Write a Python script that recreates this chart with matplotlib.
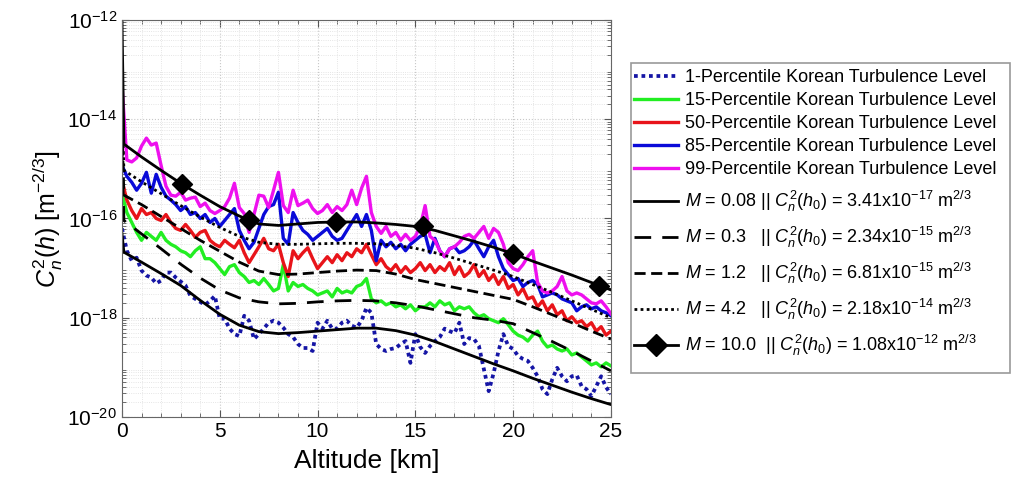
import numpy as np
import matplotlib
matplotlib.use("Agg")
import matplotlib.pyplot as plt
from matplotlib.lines import Line2D
from matplotlib.patches import Rectangle
from matplotlib.ticker import LogLocator, FixedLocator, MultipleLocator, NullFormatter

plt.rcParams['font.family'] = ['Liberation Sans', 'DejaVu Sans']
plt.rcParams['mathtext.fontset'] = 'custom'
plt.rcParams['mathtext.rm'] = 'Liberation Sans'
plt.rcParams['mathtext.it'] = 'Liberation Sans:italic'
plt.rcParams['mathtext.bf'] = 'Liberation Sans:bold'

# ---------------- data (log10 of Cn^2, m^-2/3) ----------------
altitude_km = np.arange(0, 25.001, 0.25)   # sampling grid of the percentile profiles

pct01_log10 = [
    -16.20, -16.65, -16.85, -16.79, -17.05, -17.15, -17.19, -17.31, -17.25, -17.09,
    -17.09, -17.19, -17.27, -17.35, -17.56, -17.62, -17.68, -17.74, -17.66, -17.56,
    -18.02, -18.02, -18.22, -18.33, -18.37, -17.96, -18.06, -18.43, -18.33, -18.22,
    -18.10, -18.06, -18.10, -18.20, -18.33, -18.39, -18.53, -18.61, -18.61, -18.67,
    -18.10, -18.22, -18.06, -18.22, -18.22, -18.10, -18.06, -18.16, -18.20, -18.06,
    -17.80, -17.90, -18.53, -18.63, -18.67, -18.63, -18.61, -18.53, -18.47, -18.91,
    -18.33, -18.59, -18.71, -18.57, -18.47, -18.39, -18.22, -18.27, -18.31, -18.10,
    -18.53, -18.41, -18.43, -18.57, -19.03, -19.48, -19.12, -18.67, -18.33, -18.57,
    -18.63, -18.77, -18.83, -18.87, -19.01, -19.18, -19.44, -19.54, -19.24, -19.01,
    -19.18, -19.28, -19.18, -19.16, -19.38, -19.44, -19.58, -19.38, -19.18, -19.40,
    -19.54]

pct15_log10 = [
    -15.49, -15.88, -16.08, -16.28, -16.44, -16.28, -16.36, -16.44, -16.28, -16.44,
    -16.52, -16.57, -16.65, -16.69, -16.77, -16.65, -16.57, -16.81, -16.81, -16.89,
    -17.01, -17.13, -16.97, -16.93, -17.09, -17.17, -17.29, -17.25, -17.33, -17.21,
    -17.33, -17.46, -17.41, -16.93, -17.46, -17.29, -17.37, -17.33, -17.41, -17.46,
    -17.54, -17.50, -17.46, -17.58, -17.41, -17.50, -17.46, -17.50, -17.37, -17.33,
    -17.21, -17.62, -17.70, -17.66, -17.74, -17.70, -17.78, -17.74, -17.82, -17.74,
    -17.86, -17.78, -17.78, -17.70, -17.78, -17.66, -17.74, -17.70, -17.86, -17.78,
    -17.82, -17.78, -17.90, -17.98, -17.94, -18.02, -18.06, -18.10, -18.02, -18.14,
    -18.27, -18.35, -18.39, -18.47, -18.35, -18.27, -18.47, -18.59, -18.55, -18.63,
    -18.67, -18.63, -18.75, -18.71, -18.79, -18.87, -18.95, -18.91, -18.99, -18.91,
    -18.97]

pct50_log10 = [
    -15.23, -15.63, -15.84, -16.00, -15.80, -15.92, -15.88, -16.00, -16.04, -15.92,
    -16.08, -16.20, -16.24, -16.12, -16.24, -16.38, -16.28, -16.24, -16.44, -16.52,
    -16.57, -16.44, -16.52, -16.59, -16.44, -16.69, -16.89, -16.73, -16.57, -16.40,
    -16.61, -16.65, -16.52, -16.89, -17.17, -16.65, -16.81, -16.69, -16.59, -16.81,
    -17.01, -16.89, -16.77, -16.89, -16.73, -16.85, -16.69, -16.77, -16.61, -16.69,
    -16.52, -16.73, -16.93, -16.81, -16.97, -17.05, -16.93, -17.09, -16.97, -17.09,
    -17.01, -16.89, -17.05, -16.93, -17.09, -16.97, -17.05, -16.89, -17.13, -16.97,
    -17.17, -17.09, -16.93, -17.17, -17.05, -17.25, -17.13, -17.33, -17.17, -17.41,
    -17.33, -17.54, -17.41, -17.62, -17.58, -17.78, -17.66, -17.86, -17.74, -17.94,
    -17.86, -18.06, -17.98, -18.10, -18.06, -18.18, -18.10, -18.27, -18.18, -18.35,
    -18.27]

pct85_log10 = [
    -14.93, -15.15, -15.27, -15.43, -15.29, -15.07, -15.49, -15.11, -15.37, -15.55,
    -15.63, -15.72, -15.84, -15.76, -15.92, -15.88, -16.00, -15.92, -16.08, -16.00,
    -16.16, -16.04, -15.92, -15.80, -16.24, -16.44, -16.61, -16.48, -16.20, -15.92,
    -15.76, -15.72, -15.47, -16.40, -16.52, -15.88, -16.08, -16.24, -16.32, -16.44,
    -16.36, -16.28, -16.20, -16.36, -16.44, -16.40, -16.24, -16.08, -15.92, -16.16,
    -15.92, -16.24, -16.85, -16.44, -16.57, -16.48, -16.61, -16.52, -16.65, -16.52,
    -16.44, -16.36, -16.32, -16.69, -16.40, -16.65, -16.77, -16.61, -16.57, -16.69,
    -16.65, -16.57, -16.44, -16.61, -16.77, -16.57, -16.44, -16.77, -17.01, -17.13,
    -17.25, -17.21, -17.37, -17.29, -17.25, -17.33, -17.58, -17.54, -17.50, -17.54,
    -17.62, -17.66, -17.70, -17.86, -17.78, -17.74, -17.82, -17.78, -17.86, -17.90,
    -17.96]

pct99_log10 = [
    -13.31, -14.82, -14.86, -14.78, -14.54, -14.38, -14.52, -14.48, -14.93, -15.35,
    -15.53, -15.55, -15.47, -15.63, -15.59, -15.57, -15.76, -15.69, -15.84, -15.90,
    -15.84, -15.76, -15.59, -15.29, -15.78, -15.90, -16.28, -15.92, -15.53, -15.55,
    -15.78, -15.43, -15.07, -15.74, -15.88, -15.43, -15.74, -15.69, -15.63, -15.80,
    -15.90, -15.84, -15.72, -15.88, -15.76, -15.84, -15.72, -15.43, -15.72, -15.39,
    -15.15, -15.88, -16.16, -16.30, -16.16, -16.36, -16.28, -16.44, -16.32, -16.44,
    -16.36, -16.16, -15.74, -16.36, -16.44, -16.65, -16.77, -16.61, -16.57, -16.48,
    -16.36, -16.32, -16.40, -16.28, -16.16, -16.40, -16.20, -16.28, -16.52, -16.89,
    -17.01, -17.05, -16.93, -16.77, -16.65, -17.29, -17.46, -17.50, -17.46, -17.37,
    -17.17, -17.46, -17.54, -17.50, -17.54, -17.62, -17.70, -17.72, -17.66, -17.78,
    -17.92]

model_h_km = [0, 0.1, 1, 2, 3, 4, 5, 6, 7, 8, 9, 10, 11, 12, 13,
              14, 15, 16, 17, 18, 19, 20, 21, 22, 23, 24, 25]
m008_log10 = [-16.30, -16.68, -16.88, -17.11, -17.35, -17.65, -17.93, -18.15, -18.28,
              -18.32, -18.30, -18.27, -18.24, -18.21, -18.21, -18.26, -18.35, -18.48,
              -18.63, -18.78, -18.93, -19.07, -19.22, -19.36, -19.50, -19.63, -19.75]
m03_log10 = [-14.63, -16.04, -16.31, -16.61, -16.92, -17.20, -17.44, -17.60, -17.68,
             -17.72, -17.71, -17.68, -17.66, -17.65, -17.66, -17.70, -17.76, -17.84,
             -17.92, -18.00, -18.05, -18.12, -18.30, -18.48, -18.67, -18.87, -19.07]
m12_log10 = [-14.17, -15.53, -15.72, -15.96, -16.20, -16.44, -16.66, -16.88, -17.06,
             -17.13, -17.12, -17.09, -17.06, -17.04, -17.05, -17.12, -17.23, -17.31,
             -17.39, -17.47, -17.55, -17.63, -17.78, -17.94, -18.10, -18.27, -18.43]
m42_log10 = [-13.66, -15.03, -15.26, -15.50, -15.74, -15.97, -16.18, -16.36, -16.48,
             -16.52, -16.52, -16.51, -16.50, -16.50, -16.51, -16.54, -16.60, -16.69,
             -16.80, -16.92, -17.04, -17.17, -17.33, -17.49, -17.66, -17.83, -18.00]
m10_log10 = [-11.97, -14.50, -14.76, -15.03, -15.29, -15.53, -15.76, -15.95, -16.11,
             -16.14, -16.11, -16.08, -16.07, -16.07, -16.09, -16.12, -16.16, -16.24,
             -16.35, -16.46, -16.58, -16.71, -16.86, -17.00, -17.14, -17.29, -17.44]
m10_marker_h_km = [3.05, 6.5, 10.95, 15.4, 20.0, 24.4]
m10_marker_log10 = [-15.30, -16.03, -16.07, -16.16, -16.71, -17.37]

pct_labels = ['1-Percentile Korean Turbulence Level',
              '15-Percentile Korean Turbulence Level',
              '50-Percentile Korean Turbulence Level',
              '85-Percentile Korean Turbulence Level',
              '99-Percentile Korean Turbulence Level']
model_labels = [
    r'$M$ = 0.08 || $C_n^2(h_0)$ = 3.41x10$^{-17}$ m$^{2/3}$',
    r'$M$ = 0.3   || $C_n^2(h_0)$ = 2.34x10$^{-15}$ m$^{2/3}$',
    r'$M$ = 1.2   || $C_n^2(h_0)$ = 6.81x10$^{-15}$ m$^{2/3}$',
    r'$M$ = 4.2   || $C_n^2(h_0)$ = 2.18x10$^{-14}$ m$^{2/3}$',
    r'$M$ = 10.0  || $C_n^2(h_0)$ = 1.08x10$^{-12}$ m$^{2/3}$',
]
x_ticks = [0, 5, 10, 15, 20, 25]
y_tick_exps = [-20, -18, -16, -14, -12]

# ---------------- figure ----------------
W, H = 1013, 482
fig = plt.figure(figsize=(W / 100, H / 100), dpi=100)
ax = fig.add_axes([0.1204, 0.1349, 0.4827, 0.8236])

def v(a):
    return 10.0 ** np.asarray(a)

lw = 2.4
h1, = ax.plot(altitude_km, v(pct01_log10), color='#1515a5', lw=2.7, ls=(0, (1, 1)))
h2, = ax.plot(altitude_km, v(pct15_log10), color='#22ee22', lw=lw)
h3, = ax.plot(altitude_km, v(pct50_log10), color='#e8141a', lw=lw)
h4, = ax.plot(altitude_km, v(pct85_log10), color='#0a0ad8', lw=lw)
h5, = ax.plot(altitude_km, v(pct99_log10), color='#ee10ee', lw=lw)

k = 'black'
g1, = ax.plot(model_h_km, v(m008_log10), color=k, lw=2.0, ls='-')
g2, = ax.plot(model_h_km, v(m03_log10), color=k, lw=2.0, ls=(0, (6, 4)))
g3, = ax.plot(model_h_km, v(m12_log10), color=k, lw=2.0, ls=(0, (4, 2)))
g4, = ax.plot(model_h_km, v(m42_log10), color=k, lw=2.0, ls=(0, (1, 1.2)))
ax.plot(model_h_km, v(m10_log10), color=k, lw=2.0, ls='-')
ax.plot(m10_marker_h_km, v(m10_marker_log10), ls='none', marker='D',
        markersize=10, color=k)
g5 = Line2D([], [], color=k, lw=2.0, marker='D', markersize=11)

ax.set_yscale('log')
ax.set_xlim(0, 25)
ax.set_ylim(1e-20, 1e-12)
ax.set_xticks(x_ticks)
ax.set_xticklabels([str(t) for t in x_ticks])
ax.yaxis.set_major_locator(FixedLocator([10.0 ** e for e in y_tick_exps]))
ax.set_yticklabels([r'$10^{%d}$' % e for e in y_tick_exps])
ax.yaxis.set_minor_locator(LogLocator(base=10, subs=np.arange(2, 10), numticks=50))
ax.yaxis.set_minor_formatter(NullFormatter())
ax.xaxis.set_minor_locator(MultipleLocator(1))
ax.tick_params(axis='both', which='both', direction='in', top=True, right=True,
               labelsize=15, color='#555555')
ax.tick_params(which='major', length=5)
ax.tick_params(which='minor', length=3)
ax.grid(True, which='major', color='#c8c8c8', lw=0.8, ls=':')
ax.grid(True, which='minor', color='#dddddd', lw=0.6, ls=':')
ax.set_axisbelow(True)
for s in ax.spines.values():
    s.set_color('#666666')
    s.set_linewidth(0.8)

ax.set_xlabel('Altitude [km]', fontsize=19, labelpad=6)
ax.set_ylabel(r'$C_n^2(h)$ [m$^{-2/3}$]', fontsize=18, labelpad=2)

# legend: two stacked blocks inside one frame
box_l, box_r, box_t, box_b = 631, 1010, 63, 373
fig.patches.append(Rectangle((box_l / W, 1 - box_b / H), (box_r - box_l) / W,
                             (box_b - box_t) / H, transform=fig.transFigure,
                             facecolor='white', edgecolor='#999999', lw=1.2,
                             zorder=0))
common = dict(loc='upper left', fontsize=13, handlelength=2.45, handletextpad=0.4,
              borderpad=0.0, borderaxespad=0.0, frameon=False)
leg1 = fig.legend([h1, h2, h3, h4, h5], pct_labels,
                  bbox_to_anchor=(634 / W, 1 - 69 / H), labelspacing=0.33, **common)
leg2 = fig.legend([g1, g2, g3, g4, g5], model_labels,
                  bbox_to_anchor=(634 / W, 1 - 189 / H), labelspacing=0.6, **common)

fig.savefig('out.png', dpi=100)
